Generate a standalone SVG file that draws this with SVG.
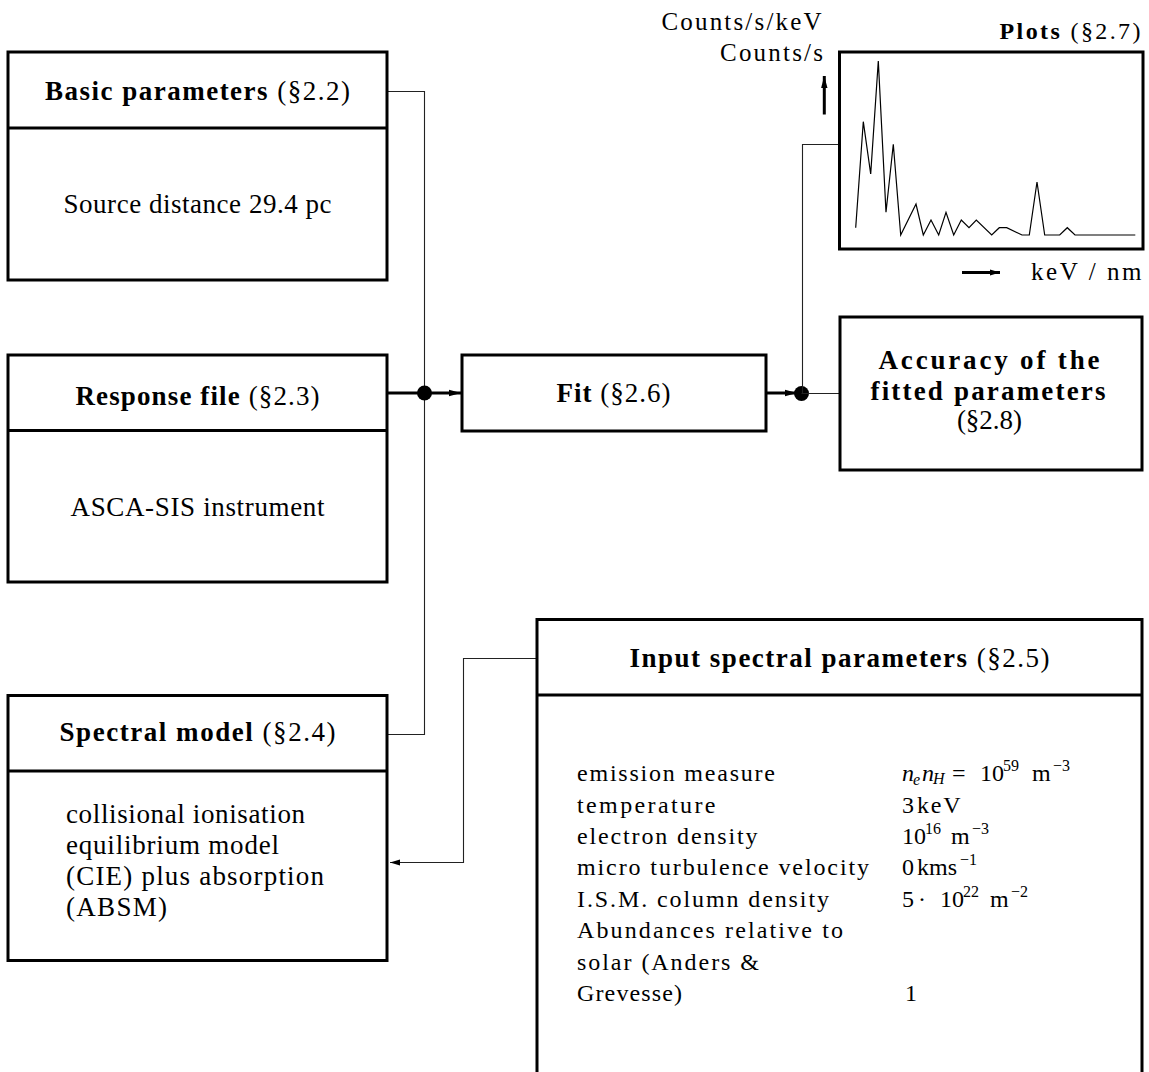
<svg xmlns="http://www.w3.org/2000/svg" width="1149" height="1072" viewBox="0 0 1149 1072" font-family="'Liberation Serif', 'DejaVu Serif', 'Times New Roman', serif">
<style>
text{font-family:'Liberation Serif','DejaVu Serif','Times New Roman',serif;fill:#000}
.hd{font-size:27px}
.b{font-weight:bold}
.li{font-size:24px}
.pl{font-size:25px}
.sm{font-size:16px}
.it{font-style:italic}
.box{fill:none;stroke:#000;stroke-width:3}
.thin{fill:none;stroke:#222;stroke-width:1.1}
.thick{fill:none;stroke:#000;stroke-width:3}
.plot{fill:none;stroke:#000;stroke-width:1.2}
</style>
<defs>
<marker id="ah" markerUnits="userSpaceOnUse" markerWidth="14" markerHeight="8" refX="12" refY="4" orient="auto"><path d="M0,0.8 L12,4 L0,7.2 z" fill="#000"/></marker>
<marker id="ahs" markerUnits="userSpaceOnUse" markerWidth="12" markerHeight="8" refX="10" refY="3.5" orient="auto"><path d="M0,0.5 L10,3.5 L0,6.5 z" fill="#000"/></marker>
</defs>

<g id="connectors">
<polyline class="thin" points="387,91.5 424.5,91.5 424.5,734.5 387,734.5"/>
<line class="thick" x1="387" y1="393" x2="424.5" y2="393"/>
<line class="thick" x1="424.5" y1="393" x2="461" y2="393" marker-end="url(#ah)"/>
<circle cx="424.5" cy="393" r="7.5" fill="#000"/>
<polyline class="thin" points="537,658.5 463.5,658.5 463.5,862.5 390,862.5" marker-end="url(#ahs)"/>
<line class="thick" x1="766" y1="393" x2="797" y2="393" marker-end="url(#ah)"/>
<circle cx="801.5" cy="393.5" r="7.5" fill="#000"/>
<line class="thin" x1="801.5" y1="393.5" x2="840" y2="393.5"/>
<polyline class="thin" points="802.5,393 802.5,144.5 839,144.5"/>
</g>

<g id="basic">
<rect class="box" x="8" y="52" width="379" height="228"/>
<line class="box" x1="8" y1="128" x2="387" y2="128"/>
<text class="hd" x="197.5" y="100" text-anchor="middle" textLength="305" lengthAdjust="spacing"><tspan class="b">Basic parameters</tspan> (§2.2)</text>
<text class="hd" x="197.5" y="213" text-anchor="middle" textLength="268" lengthAdjust="spacing">Source distance 29.4 pc</text>
</g>

<g id="response">
<rect class="box" x="8" y="355" width="379" height="227"/>
<line class="box" x1="8" y1="430.5" x2="387" y2="430.5"/>
<text class="hd" x="197.5" y="405" text-anchor="middle" textLength="244" lengthAdjust="spacing"><tspan class="b">Response file</tspan> (§2.3)</text>
<text class="hd" x="197.5" y="516" text-anchor="middle" textLength="254" lengthAdjust="spacing">ASCA-SIS instrument</text>
</g>

<g id="spectral-model">
<rect class="box" x="8" y="695.5" width="379" height="265"/>
<line class="box" x1="8" y1="771" x2="387" y2="771"/>
<text class="hd" x="197.5" y="741" text-anchor="middle" textLength="276" lengthAdjust="spacing"><tspan class="b">Spectral model</tspan> (§2.4)</text>
<text class="hd" x="66" y="822.5" textLength="239" lengthAdjust="spacing">collisional ionisation</text>
<text class="hd" x="66" y="853.5" textLength="213" lengthAdjust="spacing">equilibrium model</text>
<text class="hd" x="66" y="884.5" textLength="258" lengthAdjust="spacing">(CIE) plus absorption</text>
<text class="hd" x="66" y="915.5" textLength="101" lengthAdjust="spacing">(ABSM)</text>
</g>

<g id="fit">
<rect class="box" x="462" y="355" width="304" height="76"/>
<text class="hd" x="613.5" y="402" text-anchor="middle" textLength="114" lengthAdjust="spacing"><tspan class="b">Fit</tspan> (§2.6)</text>
</g>

<g id="accuracy">
<rect class="box" x="840" y="317" width="302" height="153"/>
<text class="hd b" x="989" y="369" text-anchor="middle" textLength="221" lengthAdjust="spacing">Accuracy of the</text>
<text class="hd b" x="988" y="400" text-anchor="middle" textLength="235" lengthAdjust="spacing">fitted parameters</text>
<text class="hd" x="989.5" y="429" text-anchor="middle">(§2.8)</text>
</g>

<g id="plots">
<rect class="box" x="839.5" y="52" width="303.5" height="197"/>
<text class="li" x="1140.5" y="39" text-anchor="end" textLength="141" lengthAdjust="spacing"><tspan class="b">Plots</tspan> (§2.7)</text>
<text class="pl" x="821.5" y="29.5" text-anchor="end" textLength="160" lengthAdjust="spacing">Counts/s/keV</text>
<text class="pl" x="823" y="61" text-anchor="end" textLength="103" lengthAdjust="spacing">Counts/s</text>
<line class="thick" x1="824.3" y1="114.5" x2="824.3" y2="76" stroke-width="2.5" marker-end="url(#ah)"/>
<line class="thick" x1="962" y1="272.5" x2="1000" y2="272.5" stroke-width="2" marker-end="url(#ahs)"/>
<text class="pl" x="1031" y="279.5" textLength="110.5" lengthAdjust="spacing">keV / nm</text>
<polyline class="plot" points="855.7,227.7 863.3,121.7 870.7,174 878.3,61 886,212.3 893.3,144.3 900.7,235 916,204 923.3,235 931,220 938.7,235 946,212.3 953.7,235 961.3,220 969,227.7 976.3,220 991.7,235 999.3,227.7 1006.7,227.7 1022,235 1029.3,235 1037,182 1044.7,235 1059.7,235 1067.3,227.7 1075,235 1135.3,235"/>
</g>

<g id="input-spectral">
<path class="box" d="M537,1080 V619.5 H1142 V1080"/>
<line class="box" x1="537" y1="695" x2="1142" y2="695"/>
<text class="hd" x="839.5" y="667" text-anchor="middle" textLength="420" lengthAdjust="spacing"><tspan class="b">Input spectral parameters</tspan> (§2.5)</text>
<text class="li" x="577" y="781" textLength="198" lengthAdjust="spacing">emission measure</text>
<text class="li" x="577" y="812.5" textLength="138.5" lengthAdjust="spacing">temperature</text>
<text class="li" x="577" y="844" textLength="180.5" lengthAdjust="spacing">electron density</text>
<text class="li" x="577" y="875" textLength="292" lengthAdjust="spacing">micro turbulence velocity</text>
<text class="li" x="577" y="906.5" textLength="252" lengthAdjust="spacing">I.S.M. column density</text>
<text class="li" x="577" y="938" textLength="266" lengthAdjust="spacing">Abundances relative to</text>
<text class="li" x="577" y="969.5" textLength="182" lengthAdjust="spacing">solar (Anders &amp;</text>
<text class="li" x="577" y="1001" textLength="105" lengthAdjust="spacing">Grevesse)</text>
<text class="li"><tspan class="it" x="902" y="781">n</tspan><tspan class="it sm" x="913" y="785">e</tspan><tspan class="it" x="922" y="781">n</tspan><tspan class="it sm" x="933" y="784">H</tspan><tspan x="952" y="781">=</tspan><tspan x="980" y="781">10</tspan><tspan class="sm" x="1003" y="771">59</tspan><tspan x="1032" y="781">m</tspan><tspan class="sm" x="1053" y="771">−3</tspan></text>
<text class="li"><tspan x="902" y="812.5">3</tspan><tspan x="917" y="812.5" textLength="43.5" lengthAdjust="spacing">keV</tspan></text>
<text class="li"><tspan x="902" y="844">10</tspan><tspan class="sm" x="925" y="834">16</tspan><tspan x="951" y="844">m</tspan><tspan class="sm" x="972" y="834">−3</tspan></text>
<text class="li"><tspan x="902" y="875">0</tspan><tspan x="917" y="875">kms</tspan><tspan class="sm" x="960" y="865">−1</tspan></text>
<text class="li"><tspan x="902" y="906.5">5</tspan><tspan x="918" y="906.5">·</tspan><tspan x="940" y="906.5">10</tspan><tspan class="sm" x="963" y="896.5">22</tspan><tspan x="990" y="906.5">m</tspan><tspan class="sm" x="1011" y="896.5">−2</tspan></text>
<text class="li" x="905" y="1001">1</text>
</g>
</svg>
